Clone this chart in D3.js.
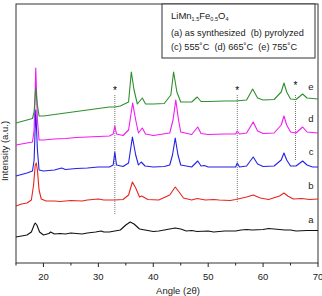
<!DOCTYPE html>
<html lang="en">
<head>
    <meta charset="UTF-8">
    <title>xrd</title>
    <script src="https://cdn.jsdelivr.net/npm/d3@7.8.5/dist/d3.min.js"></script>
    <style>
        body { margin: 0; background: #fff; }
        text { font-family: "Liberation Sans", Arial, sans-serif; fill: #222; white-space: pre; }
    </style>
</head>
<body>
<div id="chart"></div>
<script type="text/javascript">
    const width = 322, height = 296;

    // [angle 2theta, intensity a.u.]
    const seriesA = [[15,26],[16,27],[17,28],[17.8,31],[18.3,38],[18.5,40],[18.8,38],[19.3,31],[20,28],[21,29.5],[21.3,31],[22,29],
        [23,29.5],[24,29],[25,30],[26,29.5],[27,29],[28,30],[29.5,31],[30.5,32],[31,31],[32,31],[33,32],[34,33],[35,38],[35.8,41],
        [36.5,39],[37.5,34],[39,32.5],[40,31.5],[41,32],[42,33],[43,34],[44,35],[45,34],[46,32],[47,32.5],[48,31.5],[50,32],[51,31],
        [53,32],[55,32],[56,33],[57,33.5],[58,33],[60,33.5],[61,34.5],[62,34],[63,33.5],[64,33],[65,33],[66,32],[68,32.5],[70,32.5]];
    const seriesB = [[15,57],[16,59],[17,60],[17.8,63],[18.2,78],[18.5,98],[18.7,100],[18.9,93],[19.2,73],[19.6,64],[20.5,62],[22,62],
        [23,61.5],[25,62.5],[27,62],[28,63],[30,64],[31,63],[33,63],[34.5,63.5],[35.5,68],[36.2,81],[36.8,75],[37.5,66],[37.9,67],
        [39,63.5],[41,63],[43,68],[44,76],[44.7,71],[45.5,65],[47,63],[48,64.5],[49.5,63],[51,63.5],[52,63],[54,62.5],[55,63.5],
        [57,66],[58.2,68],[59.5,65],[61,63.5],[63,67],[63.8,70],[64.5,67],[65.5,64],[67,64.5],[68.5,63.5],[70,64]];
    const seriesC = [[15,87],[16,88.5],[17,90],[18,92],[18.3,103],[18.6,153],[18.9,113],[19.2,93],[20,92],[22,93],[23.3,95],[24,93.5],
        [26,94.5],[28,95],[30,96],[32,96],[32.7,98],[33,111],[33.3,98],[34.5,96.5],[35.5,100],[36.2,126],[36.8,108],[37.3,98],
        [37.8,101],[38.5,97],[40,96],[42,96.5],[43,98],[43.5,108],[44,125],[44.5,108],[45,98],[47,96],[48.1,102],[48.7,97],
        [49.3,97.5],[50,96],[53,96],[55,96],[55.3,100],[55.7,96],[57,97],[58.2,106],[59,99],[60,96.5],[62,97],[63.3,103],[63.8,110],
        [64.3,103],[65,97],[66,97],[67.2,102],[68,98],[69,96],[70,96]];
    const seriesD = [[15,118],[16,119],[17,120],[18,121],[18.3,133],[18.6,195],[18.9,143],[19.2,123],[20,123],[22,124],[24,124.5],
        [26,125.5],[28,126],[30,126.5],[32,127],[32.7,129],[33,137],[33.3,129],[34.5,127.5],[35.5,133],[36.25,160],[36.8,143],
        [37.3,130],[38,135],[38.6,129],[40,127.5],[43,130],[43.6,143],[44.1,163],[44.6,143],[45,131],[47,128.5],[48.1,136],
        [48.7,129.5],[50,128.5],[53,129],[55,129],[55.3,132],[55.7,129],[57,130],[58.2,141],[59,132],[60,129.5],[62,130],[63.3,138],
        [63.8,147],[64.3,138],[65,131],[66,130],[67.2,136],[68,131],[70,130]];
    const seriesE = [[15,140],[16,141.5],[17,143],[18,144.5],[18.3,151],[18.6,175],[18.9,158],[19.2,147],[20,147],[22,148.5],[24,150],
        [26,151.5],[28,153],[30,154.5],[32,156],[33,156],[34,157],[35.5,161],[36,191],[36.5,173],[37.1,159],[38,165],[38.6,159],
        [40,159],[42,159.5],[43.2,168],[43.7,191],[44.3,171],[45,161],[47,161],[48,166],[48.7,161.5],[50,161.5],[53,162],[55,162],
        [57,163],[58.1,174],[59,165],[60,163],[62,163.5],[63.3,171],[63.8,180],[64.3,171],[65,164],[66,163.5],[67.2,169],[68,165],
        [70,164]];

    const seriesNames = ["a", "b", "c", "d", "e"];
    const seriesColors = ["#111111", "#e8241f", "#2222e6", "#f31af3", "#2f8f2f"];
    const allSeries = [seriesA, seriesB, seriesC, seriesD, seriesE];
    const labelLevels = [43, 77, 111, 144, 176];

    // impurity peaks marked with *
    const starAngles = [33, 55.3, 65.9];
    const starLevels = [174, 174, 179];
    const dotLow = [48, 60, 103];

    const xTicks = [20, 30, 40, 50, 60, 70];
    const xMinor = [15, 25, 35, 45, 55, 65];

    const legendLines = ["(a) as synthesized  (b) pyrolyzed", "(c) 555˚C  (d) 665˚C  (e) 755˚C"];

    const plot = {left: 16, right: 318, top: 4, bottom: 263};

    const x = d3.scaleLinear().domain([15, 70]).range([plot.left, plot.right]);
    const y = d3.scaleLinear().domain([0, 259]).range([plot.bottom, plot.top]);

    const svg = d3.select('#chart')
        .append('svg')
        .attr('width', width)
        .attr('height', height);

    // frame
    svg.append("rect")
        .attr("x", plot.left).attr("y", plot.top)
        .attr("width", plot.right - plot.left).attr("height", plot.bottom - plot.top)
        .attr("fill", "none").attr("stroke", "#333").attr("stroke-width", 1);

    // x axis ticks
    const xAxis = svg.append("g").attr("transform", `translate(0,${plot.bottom})`);
    xAxis.selectAll("line.major").data(xTicks).join("line")
        .attr("x1", d => x(d)).attr("x2", d => x(d))
        .attr("y1", 0).attr("y2", 4)
        .attr("stroke", "#222");
    xAxis.selectAll("line.minor").data(xMinor).join("line")
        .attr("x1", d => x(d)).attr("x2", d => x(d))
        .attr("y1", 0).attr("y2", 2.5)
        .attr("stroke", "#222");
    xAxis.selectAll("text").data(xTicks).join("text")
        .attr("x", d => x(d)).attr("y", 17)
        .attr("text-anchor", "middle")
        .attr("font-size", 9.5)
        .text(d => d);

    svg.append("text")
        .attr("x", 178).attr("y", 294)
        .attr("text-anchor", "middle")
        .attr("font-size", 9.5)
        .text("Angle (2θ)");

    svg.append("text")
        .attr("transform", "translate(8,151) rotate(-90)")
        .attr("text-anchor", "middle")
        .attr("font-size", 9.5)
        .text("Intensity (a.u.)");

    // dotted guide lines and stars
    starAngles.forEach((a, i) => {
        svg.append("line")
            .attr("x1", x(a)).attr("x2", x(a))
            .attr("y1", y(168)).attr("y2", y(dotLow[i]))
            .attr("stroke", "#777").attr("stroke-width", 1)
            .attr("stroke-dasharray", "1,1");
        svg.append("text")
            .attr("x", x(a)).attr("y", y(starLevels[i]) + 5)
            .attr("text-anchor", "middle")
            .attr("font-size", 10)
            .style("fill", "#000")
            .text("*");
    });

    const line = d3.line()
        .x(d => x(d[0]))
        .y(d => y(d[1]));

    allSeries.forEach((s, i) => {
        svg.append("path")
            .attr("d", line(s))
            .attr("fill", "none")
            .attr("stroke", seriesColors[i])
            .attr("stroke-width", 1.1)
            .attr("stroke-linejoin", "round");
        svg.append("text")
            .attr("x", 311).attr("y", y(labelLevels[i]) + 3)
            .attr("text-anchor", "middle")
            .attr("font-size", 9.5)
            .text(seriesNames[i]);
    });

    // legend box
    svg.append("rect")
        .attr("x", 162).attr("y", plot.top)
        .attr("width", 153).attr("height", 54)
        .attr("fill", "#fff").attr("stroke", "#333").attr("stroke-width", 1);

    const title = svg.append("text")
        .attr("x", 171).attr("y", 18.5)
        .attr("font-size", 9.5);
    title.append("tspan").text("LiMn");
    title.append("tspan").attr("font-size", 5.5).attr("dy", 2).text("1.5");
    title.append("tspan").attr("dy", -2).text("Fe");
    title.append("tspan").attr("font-size", 5.5).attr("dy", 2).text("0.5");
    title.append("tspan").attr("dy", -2).text("O");
    title.append("tspan").attr("font-size", 5.5).attr("dy", 2).text("4");

    legendLines.forEach((t, i) => {
        svg.append("text")
            .attr("x", 171).attr("y", 35.5 + i * 14.5)
            .attr("font-size", 9.2)
            .text(t);
    });
</script>
</body>
</html>
